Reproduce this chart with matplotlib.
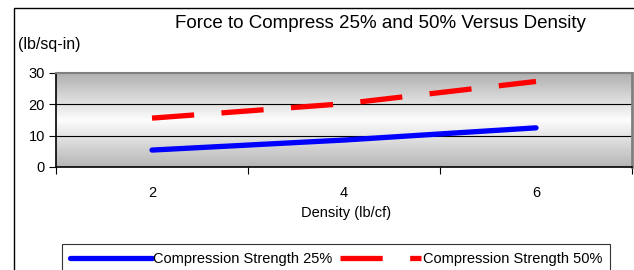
import matplotlib.pyplot as plt
import numpy as np
from matplotlib.lines import Line2D
from matplotlib.patches import Rectangle

plt.rcParams['font.family'] = ['Liberation Sans', 'DejaVu Sans']

density = ['2', '4', '6']
strength_25 = [5.4, 8.6, 12.5]
strength_50 = [15.6, 20.2, 27.3]
y_ticks = [0, 10, 20, 30]

W, H = 634, 270
fig = plt.figure(figsize=(W / 100, H / 100), dpi=100)

# outer chart border (cut off at right and bottom like the original)
fig.patches.append(Rectangle((14 / W, -0.1), 1.0, 1 - 8 / H + 0.1, transform=fig.transFigure,
                             fill=False, edgecolor='black', linewidth=1.0))

ax = fig.add_axes([56 / W, (H - 167) / H, 576 / W, 94 / H])
x = np.arange(len(density))

# gray gradient plot area
shade = np.interp(np.linspace(0, 1, 200), [0, 0.5, 1], [0.71, 0.99, 0.69])
ax.imshow(shade[:, None], extent=[-0.5, 2.5, 0, 30], aspect='auto', cmap='gray',
          vmin=0, vmax=1, origin='lower', zorder=0)

for v in [10, 20]:
    ax.axhline(v, color='black', linewidth=0.8, zorder=1)

ax.plot(x, strength_25, color='#0000ff', linewidth=3.8, solid_capstyle='round', zorder=3)
ax.plot(x, strength_50, color='#ff0000', linewidth=3.8, dashes=(8, 5.2), zorder=3)

ax.set_xlim(-0.5, 2.5)
ax.set_ylim(0, 30)
ax.set_yticks(y_ticks)
ax.set_xticks([-0.5, 0.5, 1.5, 2.5])
ax.set_xticklabels([])
ax.set_xticks(x, minor=True)
ax.set_xticklabels(density, minor=True)
ax.tick_params(axis='x', which='minor', length=0, pad=14, labelsize=10.5)
ax.tick_params(axis='x', which='major', length=5, direction='out')
ax.tick_params(axis='y', length=5, direction='out', labelsize=10.5, pad=3)

ax.spines['top'].set_color('#808080')
ax.spines['top'].set_linewidth(1.5)
ax.spines['right'].set_color('#808080')
ax.spines['right'].set_linewidth(2)
ax.spines['left'].set_linewidth(1.2)
ax.spines['bottom'].set_linewidth(1.2)

fig.text(380 / W, 1 - 23 / H, 'Force to Compress 25% and 50% Versus Density',
         ha='center', va='center', fontsize=13.5)
fig.text(18 / W, 1 - 44 / H, '(lb/sq-in)', ha='left', va='center', fontsize=11.5)
fig.text(346 / W, 1 - 213 / H, 'Density (lb/cf)', ha='center', va='center', fontsize=10.5)

handles = [Line2D([], [], color='#0000ff', linewidth=3.8, solid_capstyle='round'),
           Line2D([], [], color='#ff0000', linewidth=3.8, dashes=(8, 5.2))]
leg = fig.legend(handles, ['Compression Strength 25%', 'Compression Strength 50%'],
                 loc='upper left', bbox_to_anchor=(62 / W, 1 - 244 / H), ncol=2,
                 frameon=True, fancybox=False, edgecolor='black', fontsize=10.5,
                 handlelength=5.6, handletextpad=0.1, columnspacing=0.5,
                 borderpad=0.55, borderaxespad=0)
leg.get_frame().set_linewidth(0.8)

fig.savefig('out.png', dpi=100)
